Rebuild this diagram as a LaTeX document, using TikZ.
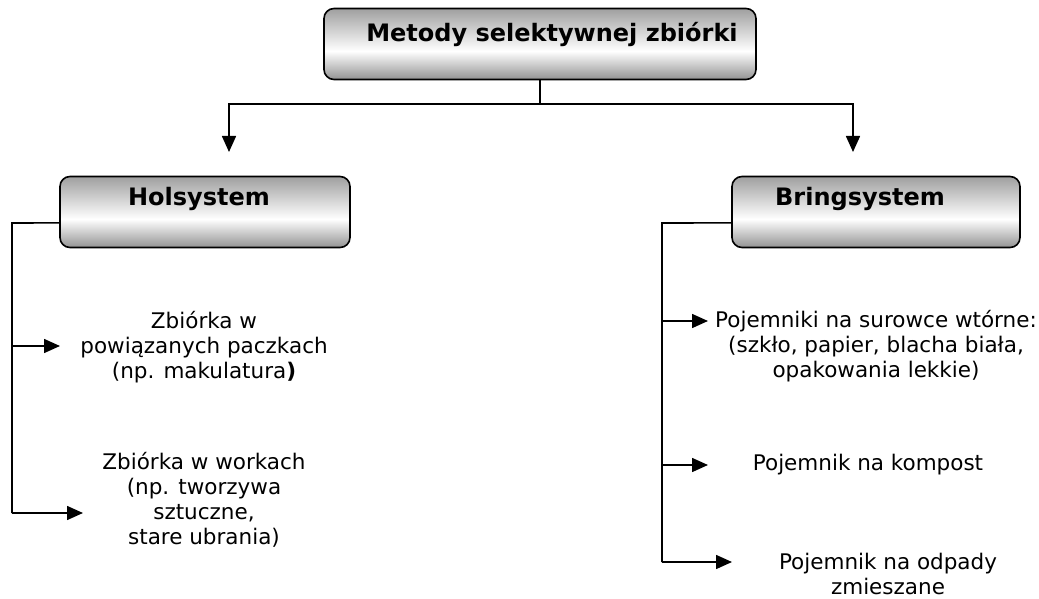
\documentclass[tikz,border=0pt]{standalone}
\usepackage{fontspec}
\setmainfont{DejaVu Sans}
\usetikzlibrary{arrows.meta, positioning, calc}
\pgfdeclareverticalshading{boxshade}{100bp}{color(0bp)=(gray!85); color(25bp)=(gray!85); color(45bp)=(white); color(75bp)=(gray!75); color(100bp)=(gray!75)}

\begin{document}
\begin{tikzpicture}[x=1pt, y=-1pt, line width=1.6pt,
  sysbox/.style={draw, rounded corners=10pt, shading=boxshade, minimum width=#1, minimum height=71pt, inner sep=0pt},
  head/.style={font=\fontsize{24}{28}\selectfont\bfseries},
  item/.style={align=center, font=\fontsize{21.5}{25}\selectfont, inner sep=0pt},
  arr/.style={-{Triangle[length=16pt, width=14pt]}}]
  \useasboundingbox (0,0) rectangle (1039,599);
  \node[sysbox=432pt] (top) at (540,44) {};
  \node[head] (toptxt) at (552,34) {Metody selektywnej zbiórki};
  \node[sysbox=290pt] (hol) at (205,212) {};
  \node[head] (holtxt) at (199,199) {Holsystem};
  \node[sysbox=288pt] (bring) at (876,212) {};
  \node[head] (bringtxt) at (860,199) {Bringsystem};
  \coordinate (fork) at (540,104);
  \coordinate (hbend) at (12,223);
  \coordinate (bbend) at (662,223);
  \coordinate (ht1) at (60,346);
  \coordinate (ht2) at (83,513);
  \coordinate (bt1) at (708,321);
  \coordinate (bt2) at (708,465);
  \coordinate (bt3) at (732,562);
  \draw (top.south) -- (fork);
  \draw[arr] (fork) -- (229,104) -- (229,152);
  \draw[arr] (fork) -- (853,104) -- (853,152);
  \draw ($(hol.south west)!0.35!(hol.north west)$) -- (hbend) -- (hbend |- ht2);
  \draw ($(bring.south west)!0.35!(bring.north west)$) -- (bbend) -- (bbend |- bt3);
  \foreach \t in {ht1, ht2}
    \draw[arr] (hbend |- \t) -- (\t);
  \foreach \t in {bt1, bt2, bt3}
    \draw[arr] (bbend |- \t) -- (\t);
  \node[item] (h1) at (204,347) {Zbiórka w\\powiązanych paczkach\\(np. makulatura\textbf{)}};
  \node[item] (h2) at (204,500) {Zbiórka w workach\\(np. tworzywa\\sztuczne,\\stare ubrania)};
  \node[item] (b1) at (876,346) {Pojemniki na surowce wtórne:\\(szkło, papier, blacha biała,\\opakowania lekkie)};
  \node[item] (b2) at (868,465) {Pojemnik na kompost};
  \node[item] (b3) at (888,574) {Pojemnik na odpady\\zmieszane};
\end{tikzpicture}
\end{document}
